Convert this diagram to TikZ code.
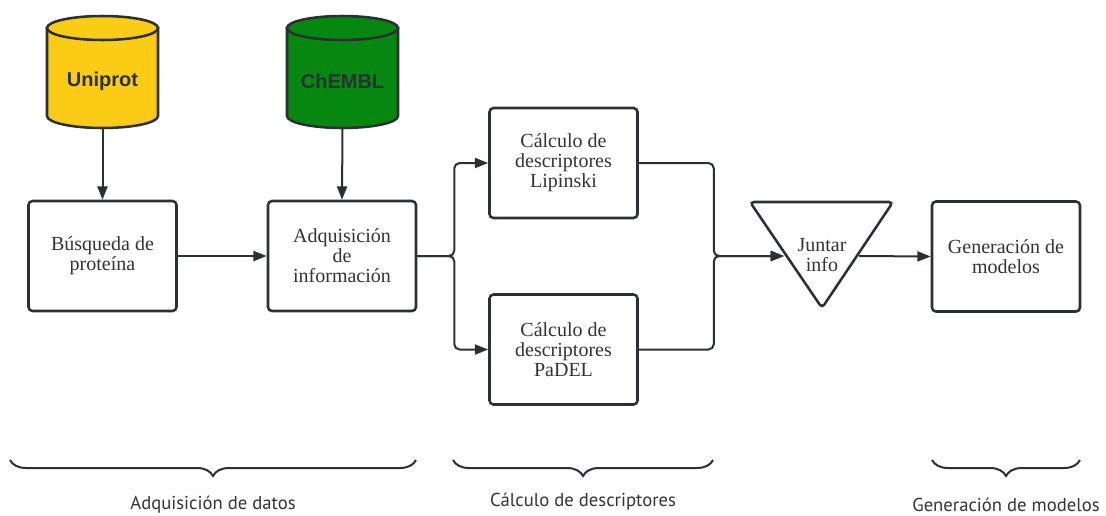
\documentclass[tikz,border=0pt]{standalone}
\usepackage{fontspec}
\newfontfamily\dbfont{Liberation Sans}
\newfontfamily\labfont{PT Sans}
\newfontfamily\boxfont{Liberation Serif}
\usetikzlibrary{arrows.meta,decorations.pathreplacing}
\definecolor{ink}{HTML}{2B2F36}
\definecolor{txt}{HTML}{333333}
\definecolor{uniyellow}{HTML}{FACC15}
\definecolor{chemgreen}{HTML}{06870F}
\begin{document}
\begin{tikzpicture}[x=0.75pt,y=-0.75pt,
  box/.style={draw=ink, line width=1.9pt, rounded corners=3pt, fill=white,
    minimum width=111pt, minimum height=82.5pt, align=center,
    font=\boxfont\fontsize{15}{15}\selectfont, text=txt, inner sep=0pt},
  conn/.style={draw=ink, line width=1.5pt, rounded corners=4pt,
    -{Triangle[length=10pt,width=7.5pt]}},
  dbtext/.style={font=\dbfont\bfseries\fontsize{15}{18}\selectfont, text=ink,
    minimum width=83pt, minimum height=75pt, inner sep=0pt},
  cyl/.style={draw=ink, line width=1.9pt},
  brc/.style={draw=ink, line width=1.5pt, decorate,
    decoration={brace,mirror,amplitude=12pt}},
  lab/.style={font=\labfont\fontsize{14}{15}\selectfont, text=txt}
]
\useasboundingbox (0,0) rectangle (1106,515);

% cylinders
\foreach \cx/\col in {102.5/uniyellow, 342.5/chemgreen}{
  \path[cyl, fill=\col] (\cx-55.5,28) -- (\cx-55.5,116)
    arc[start angle=180, end angle=0, x radius=55.5, y radius=12]
    -- (\cx+55.5,28) -- cycle;
  \path[cyl, fill=\col] (\cx,28) ellipse[x radius=55.5, y radius=12];
}
\node[dbtext] (uni) at (102.5,81) {Uniprot};
\node[dbtext] (chem) at (342.5,81) {ChEMBL};
\coordinate (unib) at (102.5,128);
\coordinate (chemb) at (342.5,128);

% boxes
\node[box] (busq) at (102.5,256) {Búsqueda de\\proteína};
\node[box] (adq) at (342,256) {Adquisición\\de\\información};
\node[box] (lip) at (563.5,163) {Cálculo de\\descriptores\\Lipinski};
\node[box] (pad) at (563.5,349.5) {Cálculo de\\descriptores\\PaDEL};
\node[box] (gen) at (1006,256.5) {Generación de\\modelos};

% triangle
\draw[draw=ink, line width=1.9pt, rounded corners=3pt, fill=white]
  (750,202) -- (893,202) -- (822,308) -- cycle;
\node[align=center, font=\boxfont\fontsize{15}{15}\selectfont, text=txt, inner sep=0pt]
  (jun) at (822,255) {Juntar\\info};
\coordinate (jin) at (784,256);
\coordinate (jout) at (859,256);

% connectors
\draw[conn] (unib) -- (busq.north);
\draw[conn] (chemb) -- (adq.north);
\draw[conn] (busq.east) -- (adq.west);
\draw[conn] (adq.east) -- ++(37,0) |- (lip.west);
\draw[conn] (adq.east) -- ++(37,0) |- (pad.west);
\draw[conn] (lip.east) -- ++(75,0) |- (jin);
\draw[conn] (pad.east) -- ++(75,0) |- (jin);
\draw[conn] (jout) -- (gen.west);

% braces
\draw[brc] (10,460) -- (416,460);
\draw[brc] (453,460) -- (713,460);
\draw[brc] (932,460) -- (1080,460);
\node[lab] (l1) at (213,505) {Adquisición de datos};
\node[lab] (l2) at (583,502) {Cálculo de descriptores};
\node[lab] (l3) at (1006,505) {Generación de modelos};
\end{tikzpicture}
\end{document}
